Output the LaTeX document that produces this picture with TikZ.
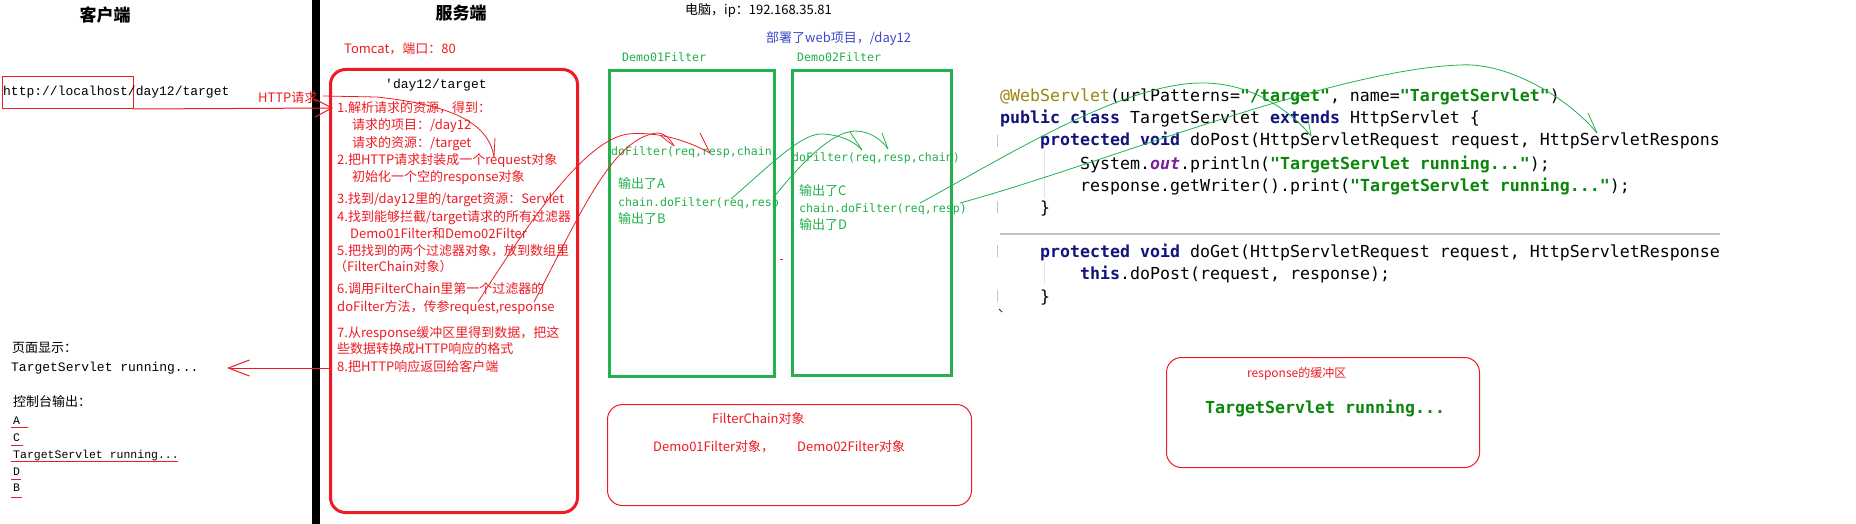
\documentclass[tikz,border=0pt]{standalone}
\usepackage{fontspec}
\setmainfont{Noto Sans CJK SC}
\newfontfamily\cjkf{Noto Sans CJK SC}
\newfontfamily\lmono{Liberation Mono}
\newfontfamily\codef{DejaVu Sans Mono}
\usetikzlibrary{arrows.meta}
\definecolor{pred}{HTML}{ED1C24}
\definecolor{pgreen}{HTML}{22B14C}
\definecolor{pblue}{HTML}{3F48CC}
\definecolor{kw}{HTML}{12127E}
\definecolor{str}{HTML}{0A870A}
\definecolor{ann}{HTML}{9A8612}
\definecolor{purp}{HTML}{7A1E9A}
\definecolor{guide}{HTML}{C4C4C4}
\definecolor{faint}{HTML}{E4E4E4}
\newcommand\kwd[1]{\textcolor{kw}{\bfseries #1}}
\newcommand\strg[1]{\textcolor{str}{\bfseries #1}}
\begin{document}
\begin{tikzpicture}[x=1pt,y=-1pt,
  lbl/.style={anchor=west, inner sep=0pt, text height=11pt, text depth=2pt},
  rtxt/.style={lbl, text=pred, font=\cjkf\fontsize{13}{15}\selectfont},
  gtxt/.style={lbl, text=pgreen, font=\cjkf\fontsize{13}{15}\selectfont},
  gmono/.style={lbl, text=pgreen, font=\codef\fontsize{11.6}{14}\selectfont},
  ktxt/.style={lbl, text=black, font=\cjkf\fontsize{13}{15}\selectfont},
  mtxt/.style={lbl, text=black, font=\lmono\fontsize{13}{15}\selectfont},
  ctxt/.style={lbl, text=black, font=\lmono\fontsize{11.5}{14}\selectfont},
  head/.style={inner sep=0pt, text=black, font=\cjkf\bfseries\fontsize{17}{20}\selectfont},
  code/.style={anchor=west, inner sep=0pt, text height=15pt, text depth=3pt, text=black, font=\codef\fontsize{16.6}{20}\selectfont},
  redbig/.style={draw=pred, line width=3pt, rounded corners=15pt, anchor=north west, inner sep=0pt},
  greenbox/.style={draw=pgreen, line width=3pt, anchor=north west, inner sep=0pt},
  redthin/.style={draw=pred, line width=1pt, rounded corners=15pt, anchor=north west, inner sep=0pt},
  rhand/.style={draw=pred, line width=0.8pt},
  ghand/.style={draw=pgreen, line width=0.8pt},
  uline/.style={draw=pred, line width=1pt}
]
\useasboundingbox (0,0) rectangle (1856,524);
\fill[white] (0,0) rectangle (1856,524);

% divider
\fill[black] (312,0) rectangle (320,524);

% headers
\node[head] (hclient) at (105,15) {客户端};
\node[head] (hserver) at (461,13) {服务端};
\node[ktxt] (pc) at (685,10) {电脑，ip：192.168.35.81};
\node[lbl, text=pblue, font=\cjkf\fontsize{13}{15}\selectfont] (deploy) at (766,38) {部署了web项目，/day12};
\node[rtxt] (tomcatlbl) at (344,49) {Tomcat，端口：80};

% client
\node[draw=pred, line width=1pt, anchor=north west, inner sep=0pt, minimum width=131.5pt, minimum height=32pt] (ubox) at (1.5,76) {};
\node[mtxt] (url) at (3,91) {http://localhost/day12/target};
\node[rtxt] (httpreq) at (258,98) {HTTP请求};
\node[ktxt] (pageshow) at (12,348) {页面显示：};
\node[mtxt] (pageout) at (11,367) {TargetServlet running...};
\node[ktxt] (console) at (13,402) {控制台输出：};
\node[ctxt] (oa) at (13,420) {A};
\node[ctxt] (oc) at (13,437) {C};
\node[ctxt] (ot) at (13,454) {TargetServlet running...};
\node[ctxt] (od) at (13,471) {D};
\node[ctxt] (ob) at (13,487) {B};
\draw[uline] (11,427) -- (28,427);
\draw[uline] (11,445) -- (23,445);
\draw[uline] (11,461) -- (178,461);
\draw[uline] (11,479) -- (21,479);
\draw[uline] (11,497) -- (22,497);

% tomcat box
\node[redbig, minimum width=247pt, minimum height=443pt] (tomcat) at (329,68) {};
\node[lbl, text=black, font=\lmono\fontsize{13}{15}\selectfont] (ctx) at (385,84) {'day12/target};
\node[rtxt] (s1) at (337,108) {1.解析请求的资源，得到：};
\node[rtxt] (s1a) at (352,125) {请求的项目：/day12};
\node[rtxt] (s1b) at (352,143) {请求的资源：/target};
\node[rtxt] (s2) at (337,160) {2.把HTTP请求封装成一个request对象};
\node[rtxt] (s2a) at (352,177) {初始化一个空的response对象};
\node[rtxt] (s3) at (337,199) {3.找到/day12里的/target资源：Servlet};
\node[rtxt] (s4) at (337,217) {4.找到能够拦截/target请求的所有过滤器};
\node[rtxt] (s4a) at (350,234) {Demo01Filter和Demo02Filter};
\node[rtxt] (s5) at (337,251) {5.把找到的两个过滤器对象，放到数组里};
\node[rtxt] (s5a) at (334,267) {（FilterChain对象）};
\node[rtxt] (s6) at (337,289) {6.调用FilterChain里第一个过滤器的};
\node[rtxt] (s6a) at (337,307) {doFilter方法，传参request,response};
\node[rtxt] (s7) at (337,333) {7.从response缓冲区里得到数据，把这};
\node[rtxt] (s7a) at (337,349) {些数据转换成HTTP响应的格式};
\node[rtxt] (s8) at (337,367) {8.把HTTP响应返回给客户端};

% filters
\node[gmono] (f1lbl) at (622,57) {Demo01Filter};
\node[gmono] (f2lbl) at (797,57) {Demo02Filter};
\node[greenbox, minimum width=165pt, minimum height=306pt] (f1) at (608,69) {};
\node[greenbox, minimum width=159pt, minimum height=305pt] (f2) at (791,69) {};
\node[gmono] (f1a) at (611,151) {doFilter(req,resp,chain};
\node[gtxt] (f1b) at (618,184) {输出了A};
\node[gmono] (f1c) at (618,202) {chain.doFilter(req,resp};
\node[gtxt] (f1d) at (618,219) {输出了B};
\node[gmono] (f2a) at (792,157) {doFilter(req,resp,chain)};
\node[gtxt] (f2b) at (799,191) {输出了C};
\node[gmono] (f2c) at (799,208) {chain.doFilter(req,resp)};
\node[gtxt] (f2d) at (799,225) {输出了D};
\fill[pred] (780,258.5) rectangle (782.5,259.5);

% filterchain box
\node[redthin, minimum width=364pt, minimum height=101pt] (fc) at (607,404) {};
\node[rtxt] (fct) at (712,419) {FilterChain对象};
\node[rtxt] (fc1) at (653,447) {Demo01Filter对象，};
\node[rtxt] (fc2) at (797,447) {Demo02Filter对象};

% code
\draw[guide, line width=1pt] (997,135) -- (997,147);
\draw[guide, line width=1pt] (997,201) -- (997,213);
\draw[guide, line width=1pt] (997,245) -- (997,257);
\draw[guide, line width=1pt] (997,290) -- (997,302);
\draw[faint, line width=1pt] (1044,150) -- (1044,198);
\draw[faint, line width=1pt] (1044,262) -- (1044,284);
\draw[guide, line width=1.2pt] (1000,234) -- (1720,234);
\node[code] (c1) at (1000,96) {\textcolor{ann}{@WebServlet}(urlPatterns=\strg{"/target"}, name=\strg{"TargetServlet"})};
\node[code] (c2) at (1000,118) {\kwd{public class} TargetServlet \kwd{extends} HttpServlet \{};
\node[code] (c3) at (1040,140) {\kwd{protected void} doPost(HttpServletRequest request, HttpServletRespons};
\node[code] (c4) at (1080,163) {System.\textcolor{purp}{\bfseries\itshape out}.println(\strg{"TargetServlet running..."});};
\node[code] (c5) at (1080,185) {response.getWriter().print(\strg{"TargetServlet running..."});};
\node[code] (c6) at (1040,207) {\}};
\node[code] (c7) at (1040,251) {\kwd{protected void} doGet(HttpServletRequest request, HttpServletResponse};
\node[code] (c8) at (1080,273) {\kwd{this}.doPost(request, response);};
\node[code] (c9) at (1040,296) {\}};
\draw[black!80, line width=1pt] (999,309) -- (1002,312);

% response buffer
\node[redthin, minimum width=313pt, minimum height=110pt] (buf) at (1166,357) {};
\node[lbl, text=pred, font=\cjkf\fontsize{12}{14}\selectfont] (buft) at (1247,373) {response的缓冲区};
\node[code, text=str] (bufc) at (1205,407) {\bfseries TargetServlet running...};

% coordinates for hand-drawn connectors
\coordinate (httptip) at (333,108);
\coordinate (respstart) at (329,368);
\coordinate (resptip) at (227,368);
\coordinate (h0) at (323,96);
\coordinate (h1) at (377,97);
\coordinate (h2) at (494,157);
\coordinate (rx0) at (478,302);
\coordinate (rx1) at (628,134);
\coordinate (rx2) at (710,153);
\coordinate (ry0) at (534,302);
\coordinate (ry1) at (657,133);
\coordinate (ry2) at (674,146);
\coordinate (g10) at (731,199);
\coordinate (g11) at (820,134);
\coordinate (g12) at (862,150);
\coordinate (g20) at (773,198);
\coordinate (g21) at (855,131);
\coordinate (g22) at (888,149);
\coordinate (g30) at (920,203);
\coordinate (g31) at (1200,83);
\coordinate (g32) at (1311,136);
\coordinate (g40) at (960,203);
\coordinate (g41) at (1460,65);
\coordinate (g42) at (1597,133);

% HTTP request arrow
\draw[pred, line width=1pt, -{Straight Barb[length=17pt,width=18pt]}] (ubox.south east) -- (httptip);
% response arrow
\draw[pred, line width=1pt, -{Straight Barb[length=21pt,width=16pt]}] (respstart) -- (resptip);

% red hand curves
\draw[rhand] (h0) -- (h1) .. controls (440,104) and (488,118) .. (h2);
\draw[rhand] (h2) -- ++(1,-19);
\draw[rhand] (rx0) .. controls (530,220) and (585,140) .. (rx1) .. controls (660,131) and (690,142) .. (rx2);
\draw[rhand] (rx2) -- ++(-10,-20);
\draw[rhand] (ry0) .. controls (580,215) and (612,138) .. (ry1) .. controls (665,133) and (670,139) .. (ry2);
\draw[rhand] (ry2) -- ++(-13,-10);

% green hand curves
\draw[ghand] (g10) .. controls (770,165) and (800,135) .. (g11) .. controls (840,134) and (855,142) .. (g12);
\draw[ghand] (g12) -- ++(-12,-18);
\draw[ghand] (g20) .. controls (800,165) and (830,132) .. (g21) .. controls (870,131) and (882,140) .. (g22);
\draw[ghand] (g22) -- ++(-6,-16);
\draw[ghand] (g30) .. controls (1000,160) and (1120,84) .. (g31) .. controls (1250,82) and (1290,110) .. (g32);
\draw[ghand] (g32) -- ++(-3,-17);
\draw[ghand] (g40) .. controls (1100,165) and (1330,70) .. (g41) .. controls (1510,62) and (1570,100) .. (g42);
\draw[ghand] (g42) -- ++(-9,-20);
\end{tikzpicture}
\end{document}
